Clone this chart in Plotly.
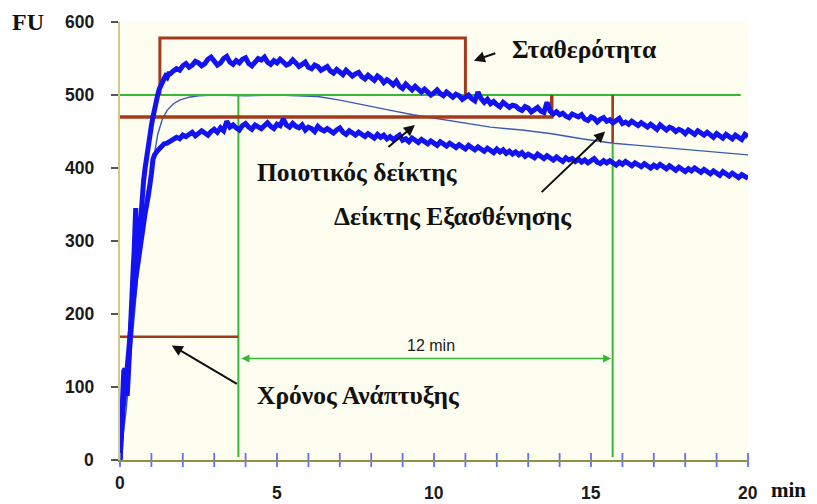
import plotly.graph_objects as go

# ---------------- data ----------------
# Upper edge of the farinogram band
upper_rise_t = [0, 0.04, 0.08, 0.12, 0.16, 0.19, 0.23, 0.27, 0.31, 0.35, 0.39, 0.42, 0.45, 0.48,
                0.5, 0.52, 0.55, 0.58, 0.62, 0.66, 0.7, 0.75, 0.8, 0.85, 0.9, 0.95, 1.0, 1.05,
                1.1, 1.15, 1.2, 1.25, 1.3, 1.35, 1.4, 1.45, 1.5, 1.55]
upper_rise_y = [0, 45, 92, 122, 125, 95, 88, 120, 168, 215, 245, 262, 285, 338,
                345, 300, 268, 278, 305, 335, 360, 382, 400, 418, 432, 445, 458, 470,
                482, 492, 500, 508, 514, 519, 522, 526, 524, 529]
upper_plateau_y = [
    529, 533, 536, 534, 540, 543, 538, 541, 546, 544,
    540, 543, 549, 552, 546, 541, 544, 550, 553, 545,
    542, 547, 544, 549, 551, 543, 540, 546, 550, 548,
    552, 545, 542, 547, 544, 549, 546, 541, 543, 548,
    544, 539, 542, 545, 538, 536, 541, 539, 534, 537,
    539, 533, 530, 535, 532, 528, 534, 531, 526, 529,
    531, 525, 522, 527, 524, 520, 526, 523, 517, 521,
    518, 514, 519, 512, 509, 515, 511, 507, 512, 509,
    504, 508, 505, 500, 503, 507, 502, 499, 504, 501,
    497, 501, 499, 494, 497, 500, 495, 492, 504, 495,
    490, 494, 488, 491, 487, 484, 490, 487, 483, 486,
    485, 481, 479, 484, 482, 477, 480, 483, 478, 476,
    490, 478, 474, 477, 473, 475, 471, 469, 474, 472,
    470, 473, 467, 465, 470, 468, 463, 467, 469, 464,
    466, 462, 465, 468, 461, 463, 460, 464, 461, 458,
    462, 458, 456, 460, 457, 453, 459, 455, 452, 456,
    454, 450, 453, 451, 447, 452, 449, 446, 451, 448,
    445, 449, 446, 442, 447, 444, 441, 446, 443, 440,
    445, 442, 439, 446, 443]

# Lower edge of the band
lower_rise_t = [0, 0.1, 0.2, 0.3, 0.4, 0.5, 0.6, 0.7, 0.8, 0.9, 0.95, 1.0, 1.05, 1.1,
                1.2, 1.3, 1.4, 1.5]
lower_rise_y = [0, 72, 112, 165, 210, 248, 282, 312, 338, 362, 374, 392, 412, 418,
                424, 429, 433, 434]
lower_plateau_y = [
    437, 439, 442, 440, 445, 443, 446, 449, 444, 447,
    451, 448, 445, 450, 453, 449, 455, 451, 464, 456,
    459, 455, 452, 458, 461, 456, 453, 459, 457, 454,
    458, 462, 457, 454, 460, 458, 467, 459, 456, 461,
    457, 455, 459, 452, 456, 454, 450, 457, 453, 451,
    454, 450, 448, 452, 455, 449, 446, 451, 448, 445,
    449, 446, 443, 447, 444, 441, 446, 442, 445, 440,
    443, 439, 442, 445, 438, 440, 436, 441, 438, 435,
    439, 436, 433, 437, 434, 431, 436, 433, 430, 434,
    431, 428, 432, 429, 426, 431, 428, 425, 429, 426,
    423, 427, 424, 421, 426, 422, 425, 420, 423, 419,
    422, 418, 421, 416, 419, 417, 414, 419, 416, 413,
    417, 414, 411, 415, 412, 409, 414, 411, 413, 409,
    412, 408, 411, 407, 410, 413, 408, 406, 410, 407,
    410, 407, 404, 408, 405, 409, 406, 403, 407, 404,
    402, 406, 403, 400, 404, 401, 405, 402, 399, 403,
    400, 397, 401, 398, 395, 399, 396, 400, 397, 394,
    398, 395, 392, 396, 393, 390, 395, 392, 389, 393,
    390, 387, 391, 388, 386]

# Sampling times of the plateau readings (every 0.1 min from 1.6 to 20 min)
plateau_t = [round(1.6 + 0.1 * i, 1) for i in range(len(upper_plateau_y))]

# Centre (median) line
median_t = [0, 0.2, 0.4, 0.55, 0.7, 0.85, 1.0, 1.1, 1.2, 1.35, 1.5, 1.7, 1.9, 2.2, 2.5, 3.0,
            4.0, 5.0, 6.3, 7.0, 7.75, 8.5, 9.33, 10.5, 11.8, 12.8, 13.75, 14.7, 15.7, 16.5,
            17.5, 18.7, 20.0]
median_y = [0, 70, 170, 250, 320, 365, 392, 420, 446, 467, 479, 488, 493, 497, 499, 500,
            499, 500, 498, 493, 486, 480, 473, 465, 456, 452, 447, 440, 434, 431,
            427, 423, 418]

# Farinograph indices (min / FU)
consistency_line = 500
arrival_time = 1.27
departure_time = 11.0
stability_top = 578
quality_level = 470
quality_time = 13.75
dev_time = 3.77
dev_level = 169
weakening_time = 15.69
weakening_level = 434
span_level = 139
green_line_end = 19.77

y_ticks = [0, 100, 200, 300, 400, 500, 600]
x_ticks = list(range(0, 21))
x_labels = [0, 5, 10, 15, 20]

# ---------------- styles ----------------
BLUE = '#1212f2'
MED = '#3a5cb0'
RED = '#a33a1c'
GREEN = '#35b835'
SERIF = '"Liberation Serif", "Times New Roman", "DejaVu Serif", serif'
SANS = '"Liberation Sans", Arial, sans-serif'
LBL = 25.5

fig = go.Figure()

# median
fig.add_trace(go.Scatter(x=median_t, y=median_y, mode='lines',
                         line=dict(color=MED, width=1.4), hoverinfo='skip'))

# green lines
fig.add_trace(go.Scatter(x=[-0.05, green_line_end], y=[consistency_line, consistency_line],
                         mode='lines', line=dict(color=GREEN, width=2), hoverinfo='skip'))
fig.add_trace(go.Scatter(x=[dev_time, dev_time], y=[consistency_line, 4],
                         mode='lines', line=dict(color=GREEN, width=2), hoverinfo='skip'))
fig.add_trace(go.Scatter(x=[weakening_time, weakening_time], y=[consistency_line, 4],
                         mode='lines', line=dict(color=GREEN, width=2), hoverinfo='skip'))

# red lines
fig.add_trace(go.Scatter(x=[arrival_time, arrival_time, departure_time, departure_time],
                         y=[consistency_line, stability_top, stability_top, consistency_line],
                         mode='lines', line=dict(color=RED, width=3), hoverinfo='skip'))
fig.add_trace(go.Scatter(x=[-0.1, quality_time, quality_time],
                         y=[quality_level, quality_level, consistency_line],
                         mode='lines', line=dict(color=RED, width=3.5), hoverinfo='skip'))
fig.add_trace(go.Scatter(x=[weakening_time, weakening_time],
                         y=[consistency_line, weakening_level],
                         mode='lines', line=dict(color=RED, width=2.5), hoverinfo='skip'))
fig.add_trace(go.Scatter(x=[-0.1, dev_time], y=[dev_level, dev_level],
                         mode='lines', line=dict(color=RED, width=2.5), hoverinfo='skip'))

# band curves
fig.add_trace(go.Scatter(x=upper_rise_t + plateau_t, y=upper_rise_y + upper_plateau_y,
                         mode='lines', line=dict(color=BLUE, width=5), hoverinfo='skip'))
fig.add_trace(go.Scatter(x=lower_rise_t + plateau_t, y=lower_rise_y + lower_plateau_y,
                         mode='lines', line=dict(color=BLUE, width=5), hoverinfo='skip'))

# x tick marks crossing the axis
fig.add_trace(go.Scatter(x=x_ticks, y=[0] * len(x_ticks), mode='markers', cliponaxis=False,
                         marker=dict(symbol='line-ns-open', size=10,
                                     line=dict(color='#4a4a33', width=1.8)),
                         hoverinfo='skip'))

annotations = []
# y tick labels
for v in y_ticks:
    annotations.append(dict(x=0, xref='paper', y=v, yref='y', text='<b>' + str(v) + '</b>',
                            showarrow=False, xanchor='right', yanchor='middle', xshift=-24,
                            font=dict(family=SANS, size=17.5, color='#1a1a1a')))
# x tick labels
for v in x_labels:
    annotations.append(dict(x=v, xref='x', y=0, yref='paper', text='<b>' + str(v) + '</b>',
                            showarrow=False, xanchor='center', yanchor='middle',
                            yshift=-23 if v == 0 else -33,
                            font=dict(family=SANS, size=17.5, color='#1a1a1a')))
annotations.append(dict(x=0, xref='paper', y=600, yref='y', text='<b>FU</b>', showarrow=False,
                        xanchor='center', yanchor='middle', xshift=-92,
                        font=dict(family=SERIF, size=24, color='#111')))
annotations.append(dict(x=20, xref='x', y=0, yref='paper', text='<b>min</b>', showarrow=False,
                        xanchor='center', yanchor='middle', xshift=40, yshift=-30,
                        font=dict(family=SERIF, size=21, color='#111')))

# labels
def label(text, x, y):
    annotations.append(dict(x=x, y=y, xref='x', yref='y', text='<b>' + text + '</b>',
                            showarrow=False, xanchor='center', yanchor='middle',
                            font=dict(family=SERIF, size=LBL, color='#111')))

label('Σταθερότητα', 14.78, 562)
label('Ποιοτικός δείκτης', 7.56, 394)
label('Δείκτης Εξασθένησης', 10.61, 333)
label('Χρόνος Ανάπτυξης', 7.61, 89)
annotations.append(dict(x=9.89, y=157, xref='x', yref='y', text='12 min', showarrow=False,
                        xanchor='center', yanchor='middle',
                        font=dict(family=SANS, size=16, color='#222')))

# arrows
def arrow(x, y, ax, ay):
    annotations.append(dict(x=x, y=y, ax=ax, ay=ay, xref='x', yref='y', axref='x', ayref='y',
                            text='', showarrow=True, arrowhead=2, arrowsize=1.1,
                            arrowwidth=2, arrowcolor='#111', standoff=0))

arrow(11.27, 547, 12.0, 558)
arrow(9.39, 459, 8.5, 427)
arrow(15.45, 450, 13.38, 365)
arrow(1.65, 157, 3.77, 103)

# 12-min double arrow
annotations.append(dict(x=weakening_time - 0.05, y=span_level, ax=dev_time + 0.05, ay=span_level,
                        xref='x', yref='y', axref='x', ayref='y', text='', showarrow=True,
                        arrowhead=2, startarrowhead=2, arrowside='end+start', arrowsize=1,
                        arrowwidth=1.6, arrowcolor=GREEN, standoff=0, startstandoff=0))

fig.update_layout(
    width=817, height=504,
    margin=dict(l=120, r=69, t=22, b=44),
    paper_bgcolor='white', plot_bgcolor='#fdfdf0',
    showlegend=False,
    annotations=annotations,
    xaxis=dict(range=[0, 20], showgrid=False, zeroline=False, showline=True,
               linecolor='#8f8f45', linewidth=1.5, ticks='', showticklabels=False,
               fixedrange=True),
    yaxis=dict(range=[0, 600], showgrid=False, zeroline=False, showline=True,
               linecolor='#cfc98f', linewidth=1.5, ticks='outside', ticklen=7,
               tickcolor='#555', tickwidth=1.5, tickvals=y_ticks, showticklabels=False,
               fixedrange=True),
)

fig.write_html('out.html')
